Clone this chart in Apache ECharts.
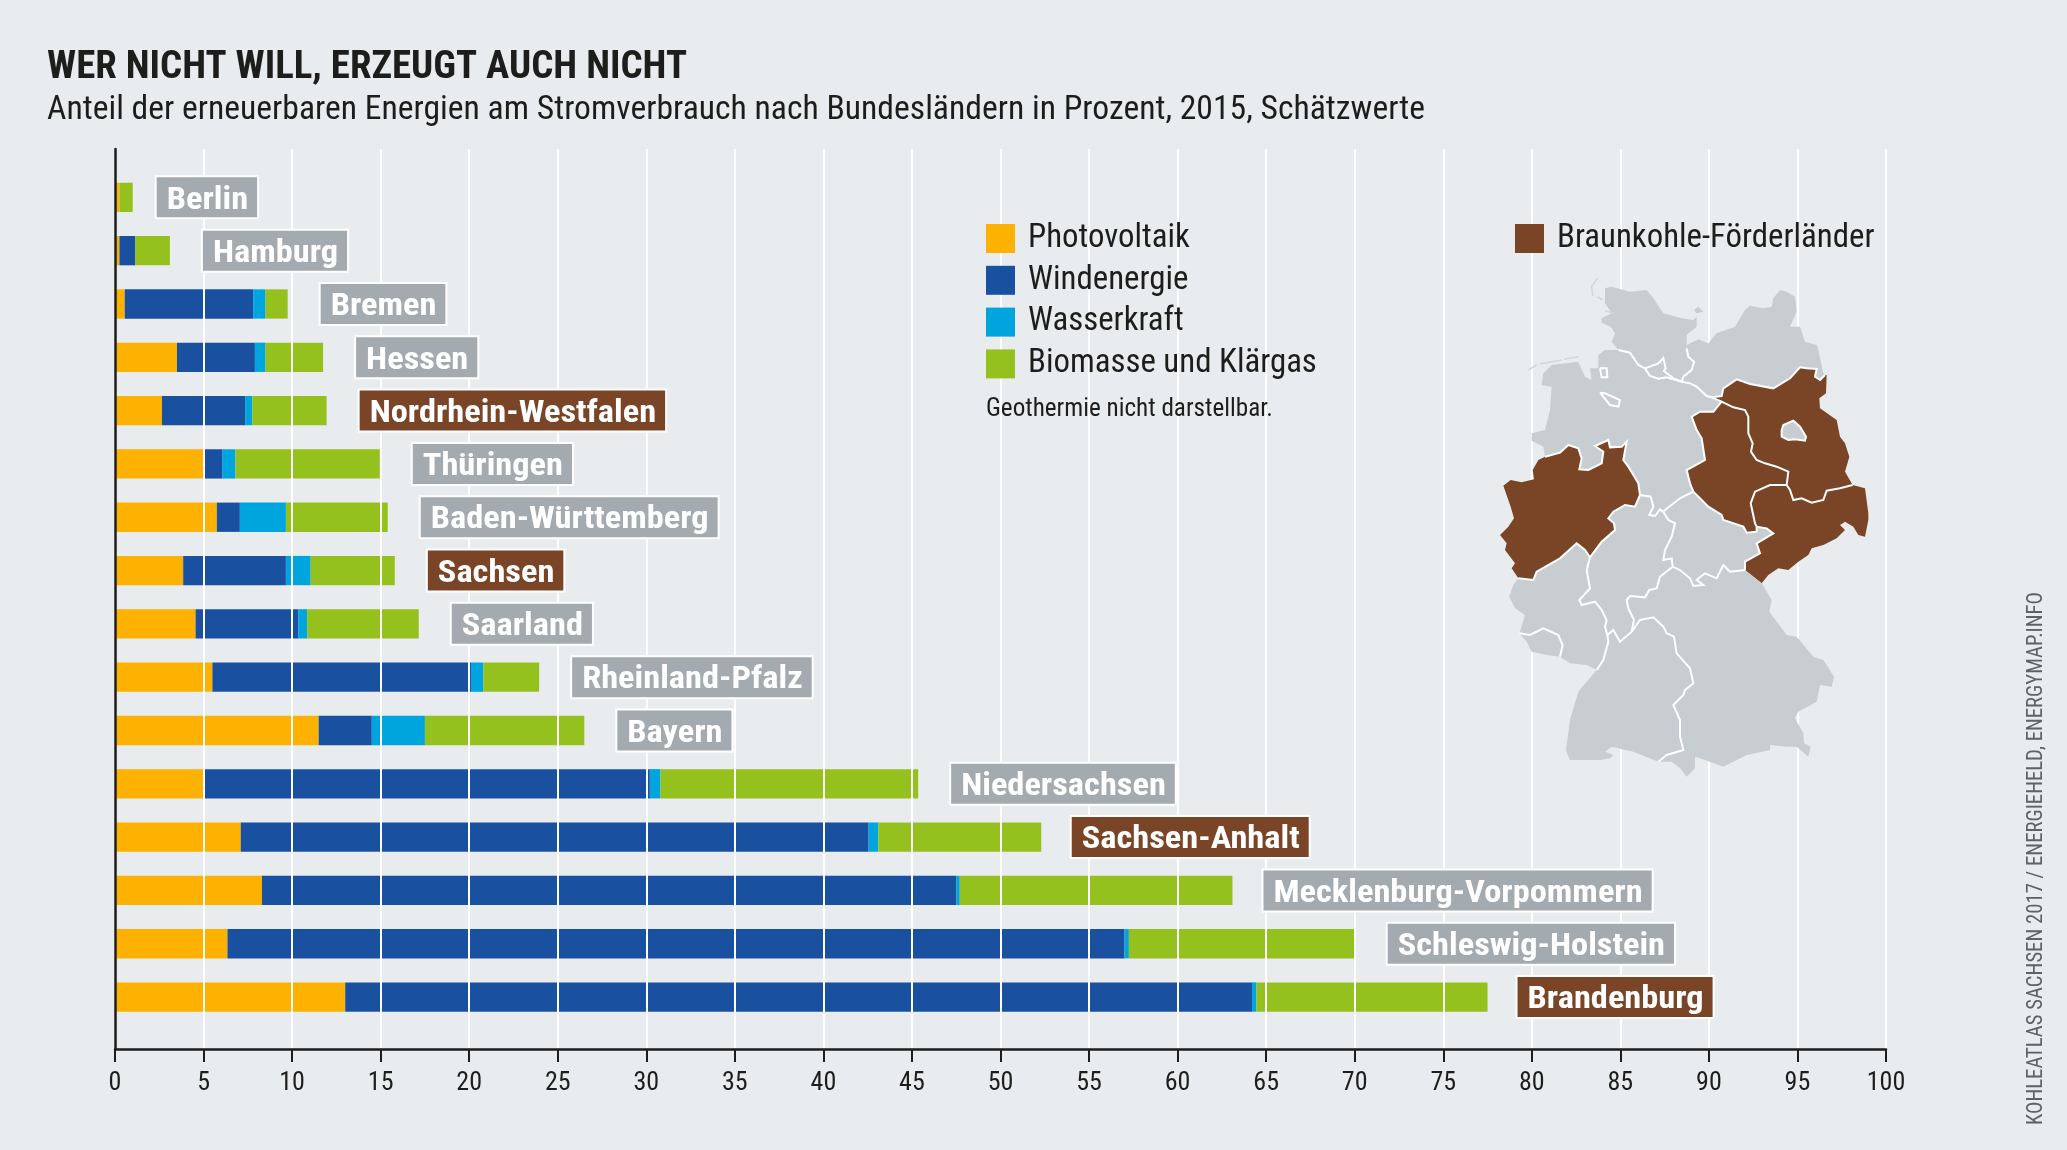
<!DOCTYPE html>
<html><head><meta charset="utf-8"><style>html,body{margin:0;padding:0;background:#e9ecee}#c{width:2067px;height:1150px}</style>
<script src="https://cdn.jsdelivr.net/npm/echarts@6/dist/echarts.min.js"></script></head><body><div id="c"></div><script>
const FONT='"Roboto Condensed",Roboto,"Liberation Sans",sans-serif';
const INK='#1d1d1b';
const states=['Berlin','Hamburg','Bremen','Hessen','Nordrhein-Westfalen','Thüringen','Baden-Württemberg','Sachsen','Saarland','Rheinland-Pfalz','Bayern','Niedersachsen','Sachsen-Anhalt','Mecklenburg-Vorpommern','Schleswig-Holstein','Brandenburg'];
const photovoltaik=[0.25,0.25,0.55,3.5,2.65,5.0,5.75,3.85,4.55,5.5,11.5,5.0,7.1,8.3,6.35,13.0];
const windenergie=[0,0.9,7.25,4.4,4.7,1.05,1.3,5.8,5.8,14.6,3.0,25.2,35.45,39.2,50.65,51.2];
const wasserkraft=[0,0,0.7,0.6,0.4,0.75,2.6,1.4,0.5,0.7,3.0,0.6,0.55,0.2,0.25,0.25];
const biomasse=[0.75,1.95,1.25,3.25,4.2,8.15,5.75,4.75,6.3,3.15,9.0,14.55,9.2,15.4,12.75,13.05];
const braunkohle=['Nordrhein-Westfalen','Sachsen','Sachsen-Anhalt','Brandenburg'];
const COL={pv:'#fdb100',wind:'#1a50a0',hydro:'#00a5de',bio:'#95c11f',brown:'#7a4426',tag:'#a3abb1',land:'#c8cdd2',bg:'#e9ecee'};

// Decorative map: shared borders (3x crop units)
const arcs={
 SHcoast:[[385,240],[365,215],[375,190],[362,170],[335,158],[335,145],[365,130],[345,100],[345,55],[365,50],[420,65],[470,60],[490,85],[520,130],[575,145],[610,150],[620,140],[620,170],[590,195],[590,235]],
 SH_MV:[[590,235],[595,260],[612,275],[605,300],[580,320],[575,335]],
 SH_NDS:[[385,240],[420,248],[445,285],[465,295]],
 SH_HH:[[465,295],[505,280],[520,264],[527,295],[522,303],[550,325],[575,335]],
 HH_NDS:[[575,335],[530,322],[505,326],[480,318],[465,295]],
 MV_NDS:[[575,335],[600,340],[620,350],[650,378],[665,382]],
 MV_BB:[[665,382],[695,378],[700,355],[740,328],[780,342],[850,355],[900,325],[930,292],[950,295],[980,297],[975,320],[990,330],[1005,315]],
 MVcoast:[[590,235],[590,225],[625,208],[655,220],[680,190],[735,170],[765,120],[780,107],[820,115],[845,110],[850,85],[870,60],[890,65],[915,80],[920,125],[900,170],[930,170],[945,215],[980,225],[985,240],[1000,310],[1005,315]],
 BB_E:[[1005,315],[1010,315],[1008,370],[988,385],[990,415],[1040,450],[1050,500],[1065,520],[1078,560],[1065,605],[1088,645]],
 BB_SN:[[1088,645],[1050,655],[1010,662],[1000,690],[965,698],[935,685],[910,690],[900,660],[890,645]],
 BB_SA:[[890,645],[895,605],[860,590],[825,580],[800,570],[783,545],[788,520],[775,490],[775,440],[765,420],[730,412],[695,395]],
 BB_NDS:[[695,395],[665,382]],
 NDS_SA:[[695,395],[670,425],[630,425],[605,440],[620,480],[635,505],[645,570],[590,600],[600,640],[610,665]],
 SA_SN:[[890,645],[840,645],[795,665],[782,700],[795,760],[800,770]],
 SA_TH:[[610,665],[625,680],[655,710],[695,735],[700,750],[760,770],[770,788],[800,785],[800,770]],
 NDS_TH:[[610,665],[570,685],[525,720],[520,725]],
 NDS_HE:[[520,725],[510,718],[495,738],[478,735],[490,710],[482,680],[450,675]],
 NDS_NRW:[[450,675],[445,640],[415,590],[400,570],[410,515],[395,530],[360,532],[355,510],[315,528],[340,545],[335,580],[295,600],[268,598],[275,565],[265,535],[235,525],[210,548],[165,560]],
 NDScoast:[[165,560],[160,530],[125,512],[125,490],[165,480],[180,420],[185,350],[155,345],[160,310],[185,285],[265,275],[285,320],[305,330],[300,295],[325,295],[325,255],[345,240],[385,240]],
 TH_SN:[[800,770],[830,775],[850,790],[800,820],[810,850],[765,875],[765,900]],
 TH_BY:[[548,890],[570,900],[600,925],[610,948],[640,945],[620,930],[645,910],[680,925],[700,885],[720,905],[765,900]],
 TH_HE:[[520,725],[535,750],[555,760],[545,800],[525,840],[520,870],[545,865],[548,890]],
 SN_E:[[1088,645],[1125,655],[1135,730],[1135,750],[1125,800],[1105,795],[1090,770],[1065,755],[1050,765],[1065,780],[1040,805],[1000,825],[965,835],[955,855],[925,875],[895,900],[865,895],[835,915],[815,940]],
 SN_BY:[[815,940],[765,900]],
 BYouter:[[815,940],[845,990],[838,1025],[890,1095],[920,1100],[970,1160],[1000,1170],[1032,1220],[1025,1250],[990,1245],[980,1295],[925,1325],[915,1345],[940,1390],[942,1420],[962,1430],[955,1460],[920,1430],[890,1430],[840,1425],[840,1440],[770,1455],[700,1490],[630,1465],[615,1460],[615,1495],[590,1520],[570,1495],[545,1475],[505,1475]],
 BY_BW:[[425,1085],[450,1050],[490,1042],[520,1070],[530,1090],[552,1100],[560,1150],[600,1195],[610,1240],[585,1260],[580,1275],[550,1305],[570,1350],[570,1400],[580,1440],[530,1455],[505,1475]],
 BY_HE:[[548,890],[510,920],[500,955],[478,960],[465,982],[420,978],[410,990],[415,1015],[432,1050],[425,1085]],
 HE_BW:[[425,1085],[390,1115],[370,1080],[352,1095]],
 HE_RP:[[352,1095],[345,1070],[350,1050],[335,1020],[315,995],[275,1005],[268,990],[300,955],[290,900],[300,862]],
 HE_NRW:[[300,862],[335,815],[375,780],[372,760],[355,745],[370,725],[405,705],[435,710],[450,675]],
 NRW_W:[[165,560],[145,570],[128,600],[132,628],[95,637],[62,630],[40,647],[62,710],[72,745],[55,770],[30,795],[50,820],[45,840],[75,880],[65,895],[85,925]],
 NRW_RP:[[85,925],[130,930],[140,905],[210,865],[260,820],[285,840],[300,862]],
 RP_BW:[[352,1095],[355,1115],[340,1170],[320,1200]],
 RP_S:[[320,1200],[290,1185],[240,1180],[210,1160]],
 RP_SL:[[210,1160],[218,1125],[205,1095],[160,1075],[120,1095],[88,1090]],
 RP_W:[[88,1090],[105,1035],[75,1015],[58,980],[70,945],[85,925]],
 SLouter:[[88,1090],[110,1115],[125,1145],[170,1155],[210,1160]],
 BWouter:[[505,1475],[430,1445],[365,1430],[345,1445],[370,1455],[360,1465],[330,1470],[240,1470],[228,1440],[240,1350],[265,1265],[320,1200]],
 BE:[[875,480],[880,465],[910,452],[930,470],[948,500],[945,512],[915,508],[895,510],[875,500],[875,480]],
 HB1:[[330,368],[345,370],[390,390],[385,410],[360,405],[330,368]],
 HB2:[[330,295],[350,295],[352,322],[335,322],[330,295]],
 FE:[[612,120],[625,110],[640,125],[620,130],[612,120]]
};
const rings={
 'Schleswig-Holstein':[['SHcoast','SH_MV','-SH_HH','-SH_NDS'],['FE']],
 'Hamburg':[['SH_HH','HH_NDS']],
 'Mecklenburg-Vorpommern':[['MVcoast','-MV_BB','-MV_NDS','-SH_MV']],
 'Niedersachsen':[['NDScoast','SH_NDS','-HH_NDS','MV_NDS','-BB_NDS','NDS_SA','NDS_TH','NDS_HE','NDS_NRW']],
 'Bremen':[['HB1'],['HB2']],
 'Brandenburg':[['MV_BB','BB_E','BB_SN','BB_SA','BB_NDS']],
 'Berlin':[['BE']],
 'Sachsen-Anhalt':[['NDS_SA','SA_TH','-SA_SN','BB_SA']],
 'Thüringen':[['-NDS_TH','SA_TH','TH_SN','-TH_BY','-TH_HE']],
 'Sachsen':[['-BB_SN','SN_E','SN_BY','-TH_SN','-SA_SN']],
 'Bayern':[['TH_BY','-SN_BY','BYouter','-BY_BW','-BY_HE']],
 'Hessen':[['-NDS_HE','TH_HE','BY_HE','HE_BW','HE_RP','HE_NRW']],
 'Nordrhein-Westfalen':[['NRW_W','NRW_RP','HE_NRW','NDS_NRW']],
 'Rheinland-Pfalz':[['NRW_RP','-HE_RP','RP_BW','RP_S','RP_SL','RP_W']],
 'Saarland':[['RP_SL','SLouter']],
 'Baden-Württemberg':[['BY_BW','BWouter','-RP_BW','-HE_BW']]
};
const innerBorders=['SH_MV','SH_NDS','SH_HH','HH_NDS','MV_NDS','MV_BB','BB_SN','BB_SA','BB_NDS','NDS_SA','SA_SN','SA_TH','NDS_TH','NDS_HE','NDS_NRW','TH_SN','TH_BY','TH_HE','BY_BW','BY_HE','HE_BW','HE_RP','HE_NRW','NRW_RP','RP_BW','RP_SL','BE','HB1','HB2'];
const islands=[[[115,300],[140,285]],[[150,282],[215,270]],[[222,268],[265,260]],[[322,25],[305,50],[308,78]],[[322,80],[338,90]],[[345,122],[372,130]]];
const toGeo=p=>[p[0],-p[1]];
const chain=list=>{const out=[];list.forEach(k=>{const a=k[0]==='-'?arcs[k.slice(1)].slice().reverse():arcs[k];out.push(...a.map(toGeo))});out.push(out[0]);return out};
const features=Object.keys(rings).map(n=>({type:'Feature',properties:{name:n},geometry:{type:'MultiPolygon',coordinates:rings[n].map(r=>[chain(r)])}}));
echarts.registerMap('de',{type:'FeatureCollection',features});
const allPts=features.flatMap(f=>f.geometry.coordinates.flat(2));
const xs=allPts.map(p=>p[0]),ys=allPts.map(p=>-p[1]);
const map={left:1490+Math.min(...xs)/3,top:270+Math.min(...ys)/3,width:(Math.max(...xs)-Math.min(...xs))/3,height:(Math.max(...ys)-Math.min(...ys))/3};

// text fitting: reference type is condensed, residual squeeze to the measured widths
const mctx=document.createElement('canvas').getContext('2d');
const measure=(t,weight,size)=>{mctx.font=`${weight} ${size}px ${FONT}`;return mctx.measureText(t).width};
const squeeze=(t,weight,size,target)=>target/measure(t,weight,size);
const tagSize=31,tagScale=squeeze('Nordrhein-Westfalen','bold',tagSize,286.5);
const legendSize=Math.min(35,30*289/measure('Biomasse und Klärgas','normal',30));
const tagGap={Berlin:22,Brandenburg:28,'Sachsen-Anhalt':28.5,'Mecklenburg-Vorpommern':29};

const totals=states.map((_,i)=>photovoltaik[i]+windenergie[i]+wasserkraft[i]+biomasse[i]);
const bar=(name,data,color)=>({name,type:'bar',stack:'s',xAxisIndex:1,yAxisIndex:1,barWidth:29.3,data,z:2,itemStyle:{color},silent:true});
const legendText={fontFamily:FONT,fontSize:legendSize,color:INK,padding:[9,0,0,8]};
const TITLE='WER NICHT WILL, ERZEUGT AUCH NICHT';
const SUB='Anteil der erneuerbaren Energien am Stromverbrauch nach Bundesländern in Prozent, 2015, Schätzwerte';
const CREDIT='KOHLEATLAS SACHSEN 2017 / ENERGIEHELD, ENERGYMAP.INFO';
const NOTE='Geothermie nicht darstellbar.';
const chart=echarts.init(document.getElementById('c'),null,{renderer:'canvas'});
chart.setOption({
 animation:false,backgroundColor:COL.bg,
 legend:[
  {data:['Photovoltaik','Windenergie','Wasserkraft','Biomasse und Klärgas'],orient:'vertical',left:986,top:222,padding:0,itemWidth:29,itemHeight:29,itemGap:8.8,icon:'rect',textStyle:legendText,selectedMode:false},
  {data:['Braunkohle-Förderländer'],orient:'vertical',left:1515,top:222,padding:0,itemWidth:29,itemHeight:29,icon:'rect',textStyle:legendText,selectedMode:false}
 ],
 grid:[{left:115,right:181,top:149,bottom:101},{left:115,right:181,top:170.7,bottom:126.3}],
 xAxis:[
  {gridIndex:0,type:'value',min:0,max:100,interval:5,z:3,
   axisLine:{show:true,lineStyle:{color:INK,width:2.5}},
   axisTick:{show:true,length:13,lineStyle:{color:INK,width:2}},
   axisLabel:{margin:21,fontFamily:FONT,fontSize:26,color:INK,showMinLabel:true,showMaxLabel:true},
   splitLine:{show:true,lineStyle:{color:'#ffffff',width:2}}},
  {gridIndex:1,type:'value',min:0,max:100,show:false}
 ],
 yAxis:[
  {gridIndex:0,type:'value',min:0,max:1,z:3,axisLine:{show:true,lineStyle:{color:INK,width:2.5}},axisTick:{show:false},axisLabel:{show:false},splitLine:{show:false}},
  {gridIndex:1,type:'category',data:states,inverse:true,show:false}
 ],
 geo:{map:'de',z:5,silent:true,roam:false,aspectScale:1,left:map.left,top:map.top,width:map.width,height:map.height,
  label:{show:false},emphasis:{disabled:true},
  itemStyle:{areaColor:COL.land,borderWidth:0,borderColor:COL.land},
  regions:braunkohle.map(name=>({name,itemStyle:{areaColor:COL.brown,borderColor:COL.brown}}))},
 series:[
  bar('Photovoltaik',photovoltaik,COL.pv),
  bar('Windenergie',windenergie,COL.wind),
  bar('Wasserkraft',wasserkraft,COL.hydro),
  bar('Biomasse und Klärgas',biomasse,COL.bio),
  {name:'Braunkohle-Förderländer',type:'scatter',xAxisIndex:1,yAxisIndex:1,data:[],itemStyle:{color:COL.brown,opacity:1}},
  {name:'Bundesland',type:'custom',xAxisIndex:1,yAxisIndex:1,z:4,silent:true,encode:{x:0,y:1},clip:false,
   data:states.map((s,i)=>[totals[i],s]),
   renderItem:(params,api)=>{
     const s=states[params.dataIndex];
     const p=api.coord([api.value(0),api.value(1)]);
     const w=measure(s,'bold',tagSize)*tagScale;
     const x=p[0]+(tagGap[s]||31);
     return {type:'group',children:[
      {type:'rect',shape:{x:x+1,y:p[1]-21,width:w+21,height:42},style:{fill:braunkohle.includes(s)?COL.brown:COL.tag,stroke:'#fff',lineWidth:2}},
      {type:'text',x:x+12,y:p[1]+3.5,scaleX:tagScale,style:{text:s,fontFamily:FONT,fontWeight:'bold',fontSize:tagSize,fill:'#fff',textVerticalAlign:'middle'}}
     ]};
   }},
  {name:'Grenzen',type:'lines',coordinateSystem:'geo',polyline:true,z:6,silent:true,
   lineStyle:{color:'#fff',width:2,opacity:1,curveness:0},
   data:innerBorders.map(k=>({coords:arcs[k].map(toGeo)}))},
  {name:'Inseln',type:'lines',coordinateSystem:'geo',polyline:true,z:6,silent:true,
   lineStyle:{color:'#d3d7da',width:1.5,opacity:1,curveness:0},
   data:islands.map(c=>({coords:c.map(toGeo)}))}
 ],
 graphic:{z:10,elements:[
  {type:'text',z:10,x:47,y:68,scaleX:squeeze(TITLE,'bold',39,640),style:{text:TITLE,fontFamily:FONT,fontWeight:'bold',fontSize:39,fill:INK,textVerticalAlign:'middle'}},
  {type:'text',z:10,x:47,y:110,scaleX:squeeze(SUB,'normal',34,1378),style:{text:SUB,fontFamily:FONT,fontSize:34,fill:INK,textVerticalAlign:'middle'}},
  {type:'text',z:10,x:986,y:410,scaleX:squeeze(NOTE,'normal',25,287),style:{text:NOTE,fontFamily:FONT,fontSize:25,fill:INK,textVerticalAlign:'middle'}},
  {type:'text',z:10,x:2036,y:1125,rotation:Math.PI/2,scaleX:squeeze(CREDIT,'normal',22,533),style:{text:CREDIT,fontFamily:FONT,fontSize:22,fill:'#5f6264',textVerticalAlign:'middle'}}
 ]}
});
</script></body></html>
